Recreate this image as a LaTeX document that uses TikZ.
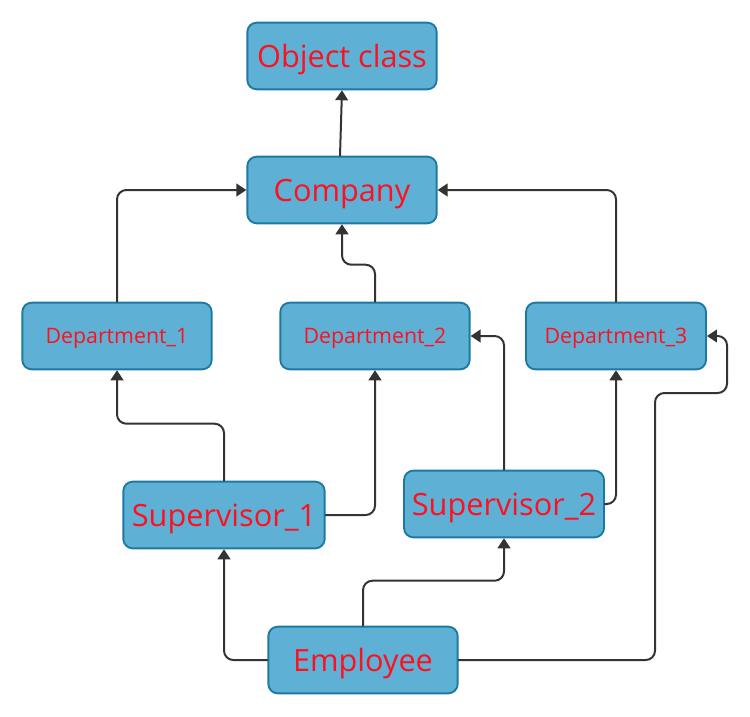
\documentclass[tikz,border=0pt]{standalone}
\usepackage{fontspec}
\setmainfont{Open Sans}
\usetikzlibrary{arrows.meta}
\definecolor{boxfill}{HTML}{5EB1D5}
\definecolor{boxline}{HTML}{1C7AA2}
\definecolor{boxtext}{HTML}{FF1020}
\definecolor{wire}{HTML}{333333}
\begin{document}
\begin{tikzpicture}[x=0.75pt, y=-0.75pt, line cap=round, line join=round,
	box/.style={draw=boxline, fill=boxfill, line width=1.4pt, rounded corners=7pt,
		minimum width=142pt, minimum height=50pt, text=boxtext, inner sep=0pt,
		text depth=0pt, font=\fontsize{23}{26}\selectfont},
	small/.style={box, font=\fontsize{16}{19}\selectfont},
	link/.style={draw=wire, line width=1.5pt, rounded corners=7pt, -{Triangle[width=9.5pt,length=7.5pt]}}]
	\useasboundingbox (0,0) rectangle (750,717);
	% classes
	\node[box] (object) at (342,56) {Object class};
	\node[box] (company) at (342,190) {Company};
	\node[small] (dept1) at (117,336) {Department\_1};
	\node[small] (dept2) at (375,336) {Department\_2};
	\node[small, minimum width=135pt] (dept3) at (616,336) {Department\_3};
	\node[box, minimum width=151pt] (sup1) at (224,515) {Supervisor\_1};
	\node[box, minimum width=150pt] (sup2) at (504,504) {Supervisor\_2};
	\node[box] (emp) at (363,660) {Employee};
	\coordinate (bend) at (655,393);
	% inheritance
	\draw[link] ([xshift=-1.5pt]company.north) -- (object.south);
	\draw[link] (dept1.north) |- (company.west);
	\draw[link] (dept2.north) -- ++(0,-37) -| (company.south);
	\draw[link] (dept3.north) |- (company.east);
	\draw[link] (sup1.north) -- ++(0,-57) -| (dept1.south);
	\draw[link] (sup1.east) -| (dept2.south);
	\draw[link] (sup2.north) |- (dept2.east);
	\draw[link] (sup2.east) -| (dept3.south);
	\draw[link] (emp.west) -| (sup1.south);
	\draw[link] (emp.north) -- ++(0,-45) -| (sup2.south);
	\draw[link] (emp.east) -| (bend) -- ++(72,0) |- (dept3.east);
\end{tikzpicture}
\end{document}
